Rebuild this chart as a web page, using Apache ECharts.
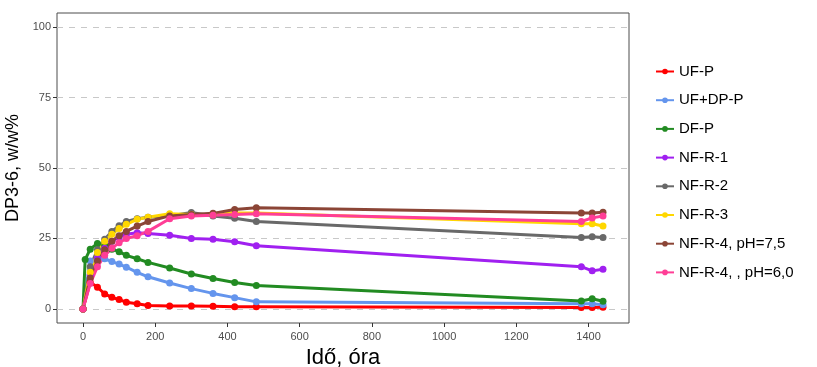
<!DOCTYPE html>
<html>
<head>
<meta charset="utf-8">
<script src="https://cdn.jsdelivr.net/npm/echarts@6/dist/echarts.min.js"></script>
<style>
  html, body { margin: 0; padding: 0; background: #fff; }
  #chart { width: 817px; height: 367px; }
</style>
</head>
<body>
<div id="chart"></div>
<script>
// Sampling times (hours); null = no measurement for that series
const hours = [0, 6, 20, 40, 60, 80, 100, 120, 150, 180, 240, 300, 360, 420, 480, 1380, 1410, 1440];

const seriesNames = ['UF-P', 'UF+DP-P', 'DF-P', 'NF-R-1', 'NF-R-2', 'NF-R-3', 'NF-R-4, pH=7,5', 'NF-R-4, , pH=6,0'];
const seriesColors = ['#ff0000', '#6495ed', '#228b22', '#a020f0', '#696969', '#ffd700', '#8b4536', '#ff3e96'];

// DP3-6 content, w/w%
const ufP    = [0, null, 9.5, 7.7, 5.3, 4.1, 3.3, 2.4, 1.8, 1.2, 1.0, 1.0, 0.9, 0.8, 0.8, 0.5, 0.5, 0.6];
const ufDpP  = [0, null, 17.0, 18.0, 17.8, 16.8, 15.9, 14.8, 13.0, 11.4, 9.2, 7.2, 5.5, 4.0, 2.5, 1.8, 1.8, 1.5];
const dfP    = [0, 17.5, 21.2, 23.2, 22.5, 21.2, 20.3, 19.0, 17.8, 16.5, 14.5, 12.4, 10.8, 9.4, 8.3, 2.8, 3.6, 2.7];
const nfR1   = [0, null, 12.0, 18.0, 21.5, 24.0, 25.5, 26.5, 27.0, 26.8, 26.1, 25.0, 24.7, 23.8, 22.4, 15.0, 13.5, 14.1];
const nfR2   = [0, null, 15.0, 21.0, 24.7, 27.5, 29.5, 31.0, 32.0, 32.5, 33.0, 34.2, 33.0, 32.2, 31.0, 25.3, 25.6, 25.3];
const nfR3   = [0, null, 13.0, 20.0, 24.0, 26.5, 28.5, 30.0, 31.8, 32.5, 33.8, 33.5, 33.5, 34.0, 34.0, 30.2, 30.2, 29.4];
const nfR4a  = [0, null, 11.0, 17.0, 21.0, 24.0, 26.0, 27.5, 29.4, 31.0, 33.0, 33.5, 33.9, 35.3, 35.9, 34.0, 34.0, 34.3];
const nfR4b  = [0, null, 9.0, 15.0, 19.0, 21.5, 23.5, 25.0, 26.0, 27.5, 32.0, 33.0, 33.2, 33.5, 33.8, 31.0, 32.3, 33.0];

const allValues = [ufP, ufDpP, dfP, nfR1, nfR2, nfR3, nfR4a, nfR4b];

const xTicks = [0, 200, 400, 600, 800, 1000, 1200, 1400];
const yTicks = [0, 25, 50, 75, 100];

const chart = echarts.init(document.getElementById('chart'));

const series = seriesNames.map((name, i) => ({
  name: name,
  type: 'line',
  data: hours.map((h, k) => [h, allValues[i][k]]),
  connectNulls: true,
  symbol: 'circle',
  symbolSize: 7,
  color: seriesColors[i],
  lineStyle: { width: 3, color: seriesColors[i] },
  itemStyle: { color: seriesColors[i] },
  emphasis: { disabled: true },
  animation: false
}));

const plainNumber = v => String(v);

chart.setOption({
  backgroundColor: '#ffffff',
  animation: false,
  textStyle: { fontFamily: 'Liberation Sans, Arial, sans-serif' },
  grid: {
    left: 57, right: 188, top: 13, bottom: 44,
    show: true, borderColor: '#4d4d4d', borderWidth: 1,
    containLabel: false,
    outerBoundsMode: 'none'
  },
  legend: {
    orient: 'vertical',
    left: 650,
    top: 58,
    itemWidth: 18,
    itemHeight: 7,
    itemGap: 11.7,
    textStyle: { fontSize: 15, color: '#000', fontFamily: 'Liberation Sans, Arial, sans-serif', lineHeight: 17 },
    data: seriesNames
  },
  xAxis: {
    type: 'value',
    min: -72,
    max: 1512,
    name: 'Idő, óra',
    nameLocation: 'middle',
    nameGap: 23,
    nameTextStyle: { fontSize: 22, color: '#000' },
    axisLine: { show: false, onZero: false },
    axisTick: { show: true, length: 4, lineStyle: { color: '#333', width: 1 }, customValues: xTicks },
    axisLabel: { fontSize: 11, color: '#4d4d4d', margin: 8, customValues: xTicks, formatter: plainNumber },
    splitLine: { show: false }
  },
  yAxis: {
    type: 'value',
    min: -5,
    max: 105,
    name: 'DP3-6, w/w%',
    nameLocation: 'middle',
    nameGap: 22,
    nameTextStyle: { fontSize: 18, color: '#000' },
    axisLine: { show: false, onZero: false },
    axisTick: { show: true, length: 4, lineStyle: { color: '#333', width: 1 }, customValues: yTicks },
    axisLabel: { fontSize: 11, color: '#4d4d4d', margin: 6, customValues: yTicks, formatter: plainNumber },
    splitLine: { show: true, lineStyle: { color: '#c8c8c8', type: [6, 6], width: 1 } }
  },
  series: series
});
</script>
</body>
</html>
